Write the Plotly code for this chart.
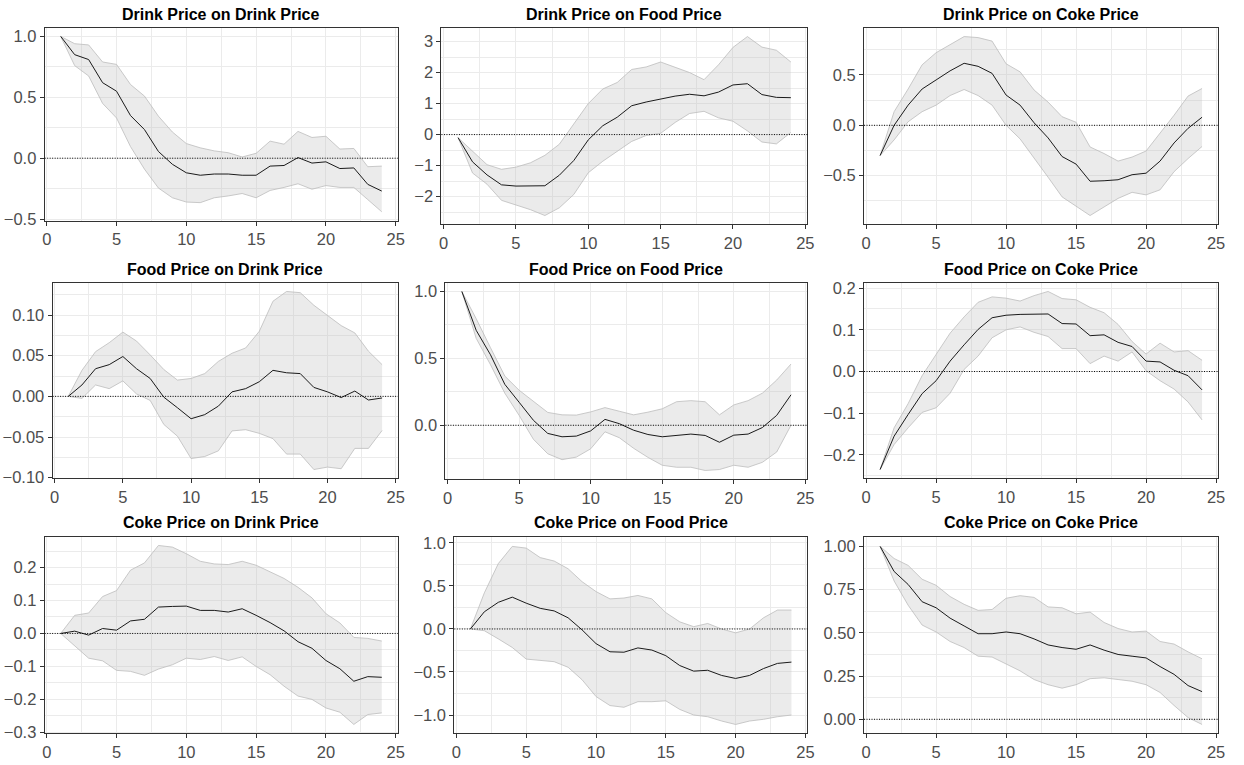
import plotly.graph_objects as go

# ---------------- data ----------------
steps = list(range(1, 25))

titles = [
    "Drink Price on Drink Price", "Drink Price on Food Price", "Drink Price on Coke Price",
    "Food Price on Drink Price", "Food Price on Food Price", "Food Price on Coke Price",
    "Coke Price on Drink Price", "Coke Price on Food Price", "Coke Price on Coke Price",
]

dd_mean = [1.0, 0.85, 0.81, 0.62, 0.55, 0.35, 0.235, 0.055, -0.05, -0.12, -0.14, -0.13,
           -0.13, -0.14, -0.14, -0.065, -0.06, 0.005, -0.04, -0.03, -0.085, -0.08, -0.215, -0.27]
dd_upper = [1.0, 0.94, 0.93, 0.79, 0.77, 0.605, 0.51, 0.345, 0.215, 0.12, 0.085, 0.06,
            0.045, 0.01, 0.04, 0.14, 0.115, 0.22, 0.17, 0.18, 0.075, 0.08, -0.07, -0.065]
dd_lower = [1.0, 0.76, 0.675, 0.45, 0.33, 0.095, -0.09, -0.245, -0.325, -0.36, -0.365, -0.325,
            -0.31, -0.29, -0.325, -0.265, -0.24, -0.21, -0.255, -0.225, -0.24, -0.24, -0.34, -0.44]

df_mean = [-0.1, -0.88, -1.3, -1.62, -1.66, -1.66, -1.65, -1.31, -0.835, -0.17, 0.285, 0.56,
           0.93, 1.05, 1.15, 1.24, 1.3, 1.25, 1.37, 1.6, 1.64, 1.29, 1.2, 1.19]
df_upper = [-0.1, -0.52, -0.97, -1.12, -1.05, -0.91, -0.67, -0.31, 0.36, 1.0, 1.47, 1.68,
            2.1, 2.18, 2.34, 2.18, 2.0, 1.77, 2.25, 2.81, 3.16, 2.82, 2.72, 2.34]
df_lower = [-0.1, -1.24, -1.6, -2.12, -2.27, -2.42, -2.61, -2.36, -1.93, -1.23, -0.86, -0.54,
            -0.22, -0.03, 0.04, 0.39, 0.68, 0.75, 0.54, 0.43, 0.12, -0.24, -0.3, 0.07]

dc_mean = [-0.30, 0.0, 0.2, 0.36, 0.45, 0.54, 0.615, 0.585, 0.515, 0.30, 0.2, 0.025,
           -0.125, -0.31, -0.385, -0.555, -0.55, -0.54, -0.49, -0.475, -0.355, -0.175, -0.03, 0.08]
dc_upper = [-0.30, 0.135, 0.36, 0.6, 0.72, 0.8, 0.88, 0.87, 0.835, 0.61, 0.53, 0.35,
            0.23, 0.085, 0.03, -0.215, -0.28, -0.355, -0.315, -0.255, -0.08, 0.1, 0.29, 0.365]
dc_lower = [-0.30, -0.145, 0.035, 0.135, 0.2, 0.295, 0.355, 0.295, 0.2, 0.0, -0.135, -0.32,
            -0.515, -0.71, -0.8, -0.895, -0.81, -0.725, -0.665, -0.69, -0.64, -0.46, -0.33, -0.21]

fd_mean = [0.0, 0.014, 0.034, 0.039, 0.049, 0.034, 0.022, -0.001, -0.014, -0.0275, -0.0225, -0.012,
           0.0055, 0.0095, 0.018, 0.032, 0.029, 0.028, 0.011, 0.0055, -0.0015, 0.0065, -0.0045, -0.002]
fd_upper = [0.0, 0.032, 0.055, 0.066, 0.079, 0.068, 0.051, 0.033, 0.020, 0.022, 0.028, 0.043,
            0.053, 0.0595, 0.08, 0.117, 0.129, 0.1275, 0.112, 0.1, 0.087, 0.078, 0.0555, 0.039]
fd_lower = [0.0, -0.0025, 0.014, 0.0095, 0.019, 0.003, -0.005, -0.0345, -0.049, -0.0765, -0.074, -0.067,
            -0.0425, -0.041, -0.0455, -0.052, -0.071, -0.071, -0.09, -0.087, -0.089, -0.064, -0.064, -0.042]

ff_mean = [1.0, 0.71, 0.527, 0.306, 0.172, 0.037, -0.061, -0.086, -0.081, -0.042, 0.044, 0.012,
           -0.037, -0.069, -0.086, -0.074, -0.066, -0.076, -0.127, -0.074, -0.066, -0.017, 0.074, 0.228]
ff_upper = [1.0, 0.797, 0.58, 0.368, 0.262, 0.179, 0.096, 0.078, 0.076, 0.1, 0.132, 0.105,
            0.078, 0.098, 0.123, 0.176, 0.184, 0.176, 0.078, 0.152, 0.184, 0.24, 0.338, 0.458]
ff_lower = [1.0, 0.65, 0.453, 0.24, 0.074, -0.105, -0.213, -0.257, -0.238, -0.176, -0.049, -0.093,
            -0.172, -0.24, -0.299, -0.314, -0.314, -0.338, -0.331, -0.299, -0.314, -0.277, -0.2, 0.0]

fc_mean = [-0.235, -0.155, -0.103, -0.053, -0.022, 0.025, 0.064, 0.101, 0.129, 0.135, 0.137, 0.137,
           0.138, 0.115, 0.114, 0.086, 0.088, 0.07, 0.06, 0.025, 0.023, 0.003, -0.01, -0.044]
fc_upper = [-0.235, -0.135, -0.077, -0.01, 0.041, 0.092, 0.131, 0.166, 0.179, 0.176, 0.169, 0.182,
            0.192, 0.175, 0.172, 0.154, 0.141, 0.113, 0.072, 0.042, 0.068, 0.047, 0.05, 0.027]
fc_lower = [-0.235, -0.175, -0.135, -0.098, -0.087, -0.052, 0.005, 0.037, 0.081, 0.1, 0.107, 0.094,
            0.084, 0.055, 0.055, 0.019, 0.037, 0.025, 0.047, 0.002, -0.022, -0.042, -0.073, -0.116]

cd_mean = [0.0, 0.007, -0.005, 0.015, 0.01, 0.038, 0.043, 0.08, 0.082, 0.083, 0.07, 0.07,
           0.065, 0.075, 0.055, 0.033, 0.008, -0.025, -0.045, -0.082, -0.107, -0.145, -0.131, -0.133]
cd_upper = [0.0, 0.055, 0.062, 0.112, 0.13, 0.192, 0.214, 0.267, 0.262, 0.242, 0.219, 0.211,
            0.209, 0.219, 0.207, 0.186, 0.167, 0.14, 0.108, 0.06, 0.032, -0.012, -0.015, -0.023]
cd_lower = [0.0, -0.038, -0.075, -0.083, -0.112, -0.115, -0.127, -0.108, -0.095, -0.075, -0.079, -0.07,
            -0.082, -0.071, -0.1, -0.125, -0.16, -0.19, -0.2, -0.226, -0.239, -0.276, -0.246, -0.241]

cf_mean = [0.0, 0.2, 0.31, 0.37, 0.3, 0.24, 0.21, 0.13, -0.01, -0.17, -0.265, -0.27,
           -0.22, -0.245, -0.31, -0.425, -0.49, -0.48, -0.54, -0.575, -0.54, -0.46, -0.4, -0.385]
cf_upper = [0.0, 0.42, 0.76, 0.96, 0.94, 0.83, 0.79, 0.7, 0.55, 0.435, 0.35, 0.36,
            0.39, 0.35, 0.19, 0.083, 0.027, 0.064, 0.0, -0.045, 0.0, 0.13, 0.22, 0.22]
cf_lower = [0.0, -0.02, -0.115, -0.215, -0.35, -0.365, -0.38, -0.445, -0.59, -0.785, -0.89, -0.91,
            -0.845, -0.845, -0.835, -0.935, -1.0, -1.02, -1.07, -1.11, -1.07, -1.05, -1.02, -1.0]

cc_mean = [1.0, 0.855, 0.78, 0.68, 0.645, 0.585, 0.54, 0.495, 0.495, 0.505, 0.495, 0.465,
           0.43, 0.415, 0.405, 0.43, 0.4, 0.375, 0.365, 0.355, 0.305, 0.26, 0.195, 0.16]
cc_upper = [1.0, 0.93, 0.89, 0.81, 0.775, 0.71, 0.665, 0.63, 0.635, 0.7, 0.715, 0.705,
            0.65, 0.645, 0.61, 0.62, 0.56, 0.525, 0.505, 0.51, 0.45, 0.435, 0.39, 0.35]
cc_lower = [1.0, 0.8, 0.66, 0.545, 0.505, 0.45, 0.415, 0.365, 0.36, 0.32, 0.28, 0.23,
            0.2, 0.18, 0.2, 0.235, 0.24, 0.23, 0.22, 0.2, 0.155, 0.08, 0.01, -0.03]

x_tickvals = [0, 5, 10, 15, 20, 25]
x_ticktext = ["0", "5", "10", "15", "20", "25"]

y_tickvals = [
    [-0.5, 0.0, 0.5, 1.0],
    [-2, -1, 0, 1, 2, 3],
    [-0.5, 0.0, 0.5],
    [-0.10, -0.05, 0.0, 0.05, 0.10],
    [0.0, 0.5, 1.0],
    [-0.2, -0.1, 0.0, 0.1, 0.2],
    [-0.3, -0.2, -0.1, 0.0, 0.1, 0.2],
    [-1.0, -0.5, 0.0, 0.5, 1.0],
    [0.0, 0.25, 0.5, 0.75, 1.0],
]
y_ticktext = [
    ["−0.5", "0.0", "0.5", "1.0"],
    ["−2", "−1", "0", "1", "2", "3"],
    ["−0.5", "0.0", "0.5"],
    ["−0.10", "−0.05", "0.00", "0.05", "0.10"],
    ["0.0", "0.5", "1.0"],
    ["−0.2", "−0.1", "0.0", "0.1", "0.2"],
    ["−0.3", "−0.2", "−0.1", "0.0", "0.1", "0.2"],
    ["−1.0", "−0.5", "0.0", "0.5", "1.0"],
    ["0.00", "0.25", "0.50", "0.75", "1.00"],
]

panels = [
    (dd_mean, dd_upper, dd_lower), (df_mean, df_upper, df_lower), (dc_mean, dc_upper, dc_lower),
    (fd_mean, fd_upper, fd_lower), (ff_mean, ff_upper, ff_lower), (fc_mean, fc_upper, fc_lower),
    (cd_mean, cd_upper, cd_lower), (cf_mean, cf_upper, cf_lower), (cc_mean, cc_upper, cc_lower),
]

# ---------------- layout geometry (pixels) ----------------
W, H = 1244, 765
boxes = [  # left, right, top, bottom
    (42, 398, 24, 220), (442, 811, 24, 224), (868, 1225, 24, 224),
    (50, 398, 283, 482), (446, 811, 283, 483), (868, 1225, 283, 482),
    (42, 398, 541, 741), (455, 811, 542, 741), (868, 1225, 542, 741),
]
title_top = [0, 0, 0, 259, 259, 259, 516, 516, 516]

FONT = "Liberation Sans, Arial, Helvetica, sans-serif"
GRID = "#EBEBEB"
BORDER = "#333333"

fig = go.Figure()
layout = dict(
    width=W, height=H, margin=dict(l=0, r=0, t=0, b=0),
    paper_bgcolor="white", plot_bgcolor="white", showlegend=False,
    font=dict(family=FONT, color="#4D4D4D", size=16),
    annotations=[], shapes=[],
)

for i, ((mean, upper, lower), box) in enumerate(zip(panels, boxes)):
    n = "" if i == 0 else str(i + 1)
    xa, ya = "x" + n, "y" + n
    l, r, t, b = box
    lo = min(min(lower), 0.0)
    hi = max(max(upper), 0.0)
    pad = 0.05 * (hi - lo)
    ystep = y_tickvals[i][1] - y_tickvals[i][0]

    fig.add_trace(go.Scatter(x=steps, y=lower, mode="lines", xaxis=xa, yaxis=ya,
                             line=dict(color="#BDBDBD", width=0.8), hoverinfo="skip"))
    fig.add_trace(go.Scatter(x=steps, y=upper, mode="lines", xaxis=xa, yaxis=ya, fill="tonexty",
                             fillcolor="rgba(190,190,190,0.30)",
                             line=dict(color="#BDBDBD", width=0.8), hoverinfo="skip"))
    fig.add_trace(go.Scatter(x=steps, y=mean, mode="lines", xaxis=xa, yaxis=ya,
                             line=dict(color="#1A1A1A", width=1)))

    axcommon = dict(showline=True, mirror=True, linecolor=BORDER, linewidth=1,
                    ticks="outside", ticklen=4, tickwidth=1, tickcolor=BORDER,
                    showgrid=True, gridcolor=GRID, gridwidth=1, zeroline=False,
                    tickfont=dict(family=FONT, size=16.5, color="#4D4D4D"))
    layout["xaxis" + n] = dict(
        axcommon, domain=[l / W, r / W], anchor=ya,
        range=[steps[0] - 0.05 * (steps[-1] - steps[0]), steps[-1] + 0.05 * (steps[-1] - steps[0])],
        tickmode="array", tickvals=x_tickvals, ticktext=x_ticktext,
        minor=dict(tickmode="linear", tick0=0, dtick=2.5, showgrid=True, gridcolor=GRID,
                   gridwidth=0.5, ticks=""),
    )
    layout["yaxis" + n] = dict(
        axcommon, domain=[1 - b / H, 1 - t / H], anchor=xa,
        range=[lo - pad, hi + pad],
        tickmode="array", tickvals=y_tickvals[i], ticktext=y_ticktext[i],
        minor=dict(tickmode="linear", tick0=0, dtick=ystep / 2, showgrid=True, gridcolor=GRID,
                   gridwidth=0.5, ticks=""),
    )
    layout["shapes"].append(dict(type="line", xref=xa + " domain", yref=ya, x0=0, x1=1, y0=0, y1=0,
                                 line=dict(color="black", width=1, dash="1px,1.5px"), layer="above"))
    layout["annotations"].append(dict(text="<b>" + titles[i] + "</b>", xref="paper", yref="paper",
                                      x=(l + r) / 2 / W, y=1 - title_top[i] / H, xanchor="center",
                                      yanchor="top", showarrow=False,
                                      font=dict(family=FONT, size=16, color="black")))

fig.update_layout(**layout)
fig.write_html("out.html", config={"displayModeBar": False},
               post_script="document.body.style.margin='0';document.body.style.overflow='hidden';")
